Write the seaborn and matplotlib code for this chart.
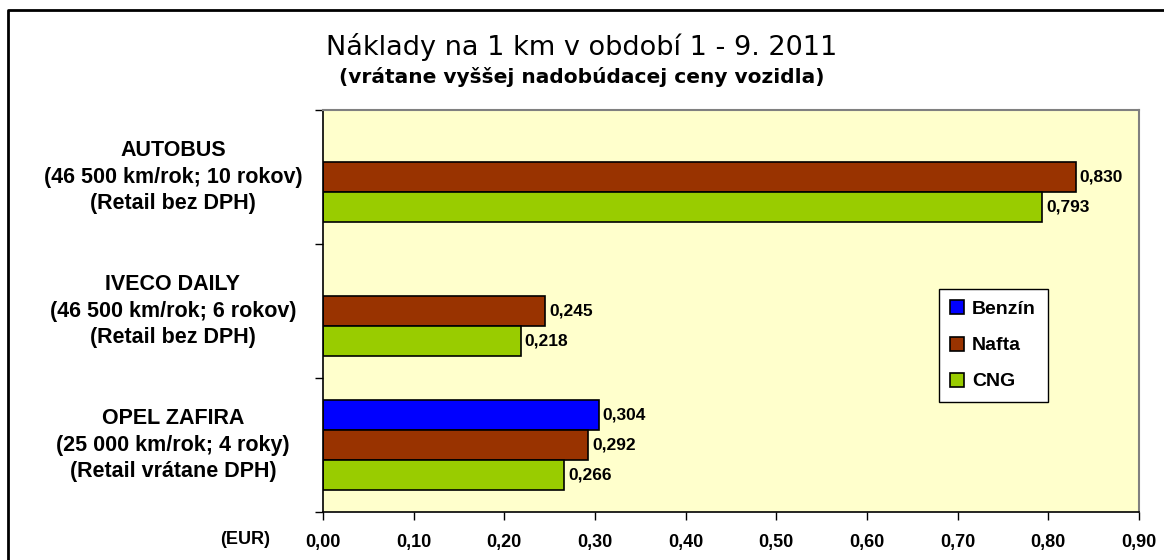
# Náklady na 1 km - porovnanie palív (Benzín / Nafta / CNG)

import numpy as np
import pandas as pd
import matplotlib
matplotlib.use("Agg")
import matplotlib.pyplot as plt
import matplotlib.transforms as mtransforms
from matplotlib.lines import Line2D
import seaborn as sns

# %%
# data
kategorie = [
    "AUTOBUS\n(46 500 km/rok; 10 rokov)\n(Retail bez DPH)",
    "IVECO DAILY\n(46 500 km/rok; 6 rokov)\n(Retail bez DPH)",
    "OPEL ZAFIRA\n(25 000 km/rok; 4 roky)\n(Retail vrátane DPH)",
]
paliva = ["Benzín", "Nafta", "CNG"]
benzin = [np.nan, np.nan, 0.304]
nafta = [0.830, 0.245, 0.292]
cng = [0.793, 0.218, 0.266]
x_ticks = [0.0, 0.1, 0.2, 0.3, 0.4, 0.5, 0.6, 0.7, 0.8, 0.9]

farby = {"Benzín": "#0000FF", "Nafta": "#993300", "CNG": "#99CC00"}

df = pd.DataFrame({
    "kategoria": kategorie * 3,
    "palivo": [p for p in paliva for _ in kategorie],
    "naklady": benzin + nafta + cng,
}).dropna()

# %%
sns.set_style("white")
plt.rcParams["font.family"] = ["Liberation Sans", "DejaVu Sans"]
plt.rcParams["text.color"] = "black"
plt.rcParams["xtick.color"] = "black"
plt.rcParams["ytick.color"] = "black"

fig = plt.figure(figsize=(11.64, 5.6), dpi=100)
ax = fig.add_axes([323 / 1164, 1 - 512 / 560, 816 / 1164, 402 / 560])
ax.set_facecolor("#FFFFCC")

sns.barplot(data=df, x="naklady", y="kategoria", hue="palivo",
            order=kategorie, hue_order=paliva, palette=farby,
            saturation=1, orient="h", width=0.67, edgecolor="black",
            linewidth=1.2, legend=False, ax=ax)

# value labels with decimal comma
for cont in ax.containers:
    labels = [f"{v:.3f}".replace(".", ",") for v in cont.datavalues]
    ax.bar_label(cont, labels=labels, padding=3, fontsize=12.5,
                 fontweight="bold", color="black")

ax.set_xlim(0, 0.9)
ax.set_ylim(2.5, -0.5)
ax.set_xticks(x_ticks)
ax.set_xticklabels([f"{t:.2f}".replace(".", ",") for t in x_ticks],
                   fontsize=13, fontweight="bold")
ax.set_yticks([-0.5, 0.5, 1.5, 2.5])
ax.set_yticklabels([])
ax.tick_params(axis="both", direction="out", length=6, width=1,
               color="black", left=True, bottom=True)
ax.tick_params(axis="x", pad=10)
ax.set_xlabel("")
ax.set_ylabel("")

for s in ["left", "bottom"]:
    ax.spines[s].set_color("black")
    ax.spines[s].set_linewidth(1.2)
for s in ["top", "right"]:
    ax.spines[s].set_color("#808080")
    ax.spines[s].set_linewidth(1.5)

# category labels, centered block to the left of the axis
trans = mtransforms.blended_transform_factory(ax.transAxes, ax.transData)
for i, k in enumerate(kategorie):
    ax.text(-0.184, i, k, transform=trans, ha="center", va="center",
            multialignment="center", fontsize=15.5, fontweight="bold",
            linespacing=1.36, color="black")

fig.text(245 / 1164, 1 - 540 / 560, "(EUR)", ha="center", va="center",
         fontsize=13, fontweight="bold")

# titles
fig.text(0.5, 1 - 47 / 560, "Náklady na 1 km v období 1 - 9. 2011",
         ha="center", va="center", fontsize=19.5, family="DejaVu Sans")
fig.text(0.5, 1 - 77 / 560, "(vrátane vyššej nadobúdacej ceny vozidla)",
         ha="center", va="center", fontsize=14.5, fontweight="bold",
         family="DejaVu Sans")

# legend
handles = [Line2D([0], [0], marker="s", linestyle="none", markersize=10,
                  markerfacecolor=farby[p], markeredgecolor="black",
                  markeredgewidth=1.2, label=p) for p in paliva]
leg = ax.legend(handles=handles, loc="upper left",
                bbox_to_anchor=(939 / 1164, 1 - 289 / 560),
                bbox_transform=fig.transFigure, borderaxespad=0,
                fancybox=False, framealpha=1, edgecolor="black",
                prop={"size": 14, "weight": "bold"}, labelspacing=0.95,
                handlelength=0.7, handletextpad=0.4, borderpad=0.6)
leg.get_frame().set_linewidth(1)

# outer chart frame (top and left visible)
fig.add_artist(Line2D([8 / 1164, 8 / 1164, 1.0], [0.0, 1 - 10 / 560, 1 - 10 / 560],
                      transform=fig.transFigure, color="black", linewidth=2))

fig.savefig("out.png", dpi=100, facecolor="white")
